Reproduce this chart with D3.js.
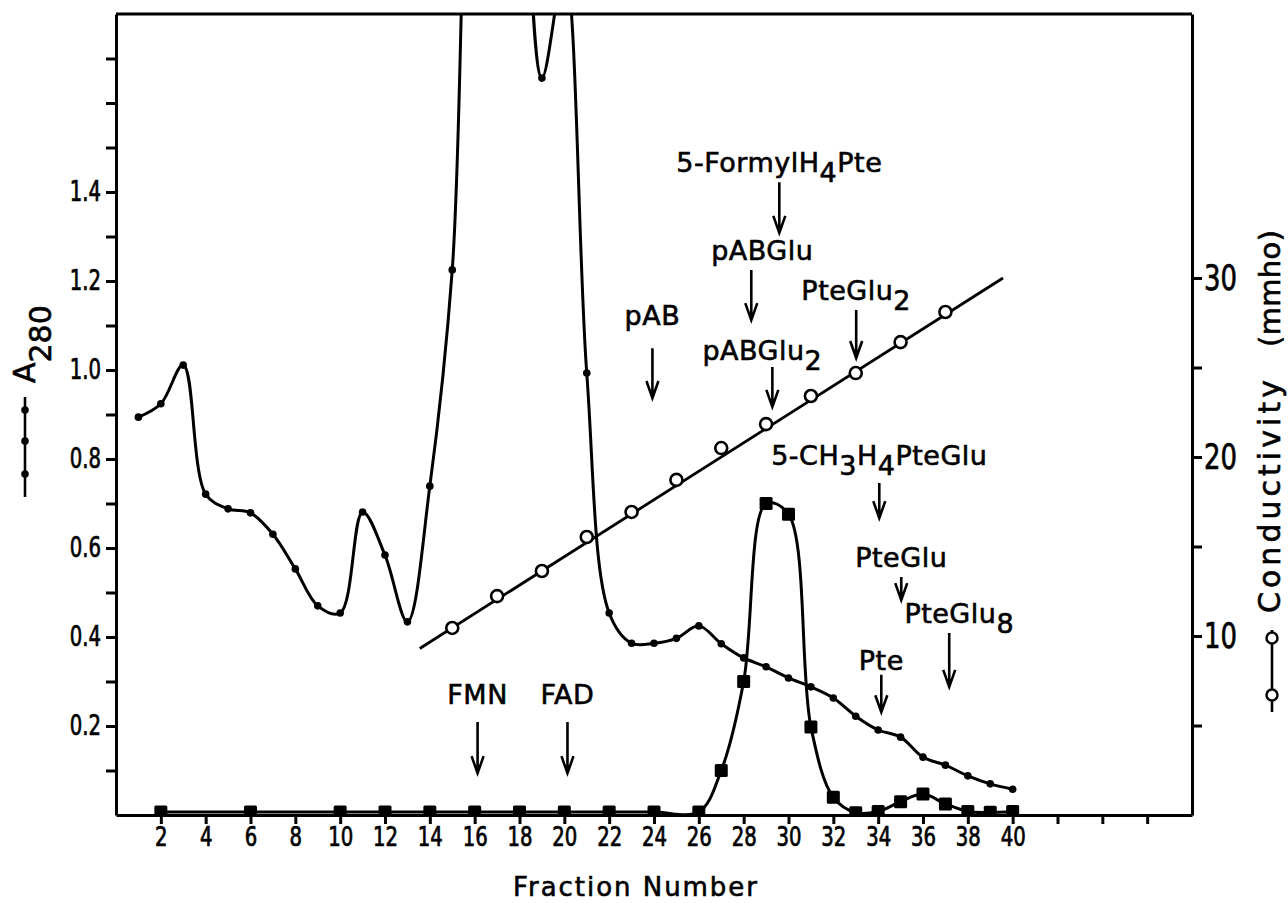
<!DOCTYPE html>
<html>
<head>
<meta charset="utf-8">
<script src="https://cdn.jsdelivr.net/npm/d3@7/dist/d3.min.js"></script>
<style>
  body { margin: 0; background: #fff; }
  svg { display: block; }
  .tick text { font-family: "Liberation Sans Narrow", "DejaVu Sans Condensed", sans-serif; fill: #000; stroke: #000; stroke-width: 0.7px; }
  .lbl { font-family: "DejaVu Sans", sans-serif; fill: #000; stroke: #000; stroke-width: 0.6px; }
</style>
</head>
<body>
<div id="chart"></div>
<script>
'use strict';

// A280 (left axis), one reading per fraction; values above 1.8 run off the top of the plot
var a280Fractions = [1, 2, 3, 4, 5, 6, 7, 8, 9, 10, 11, 12, 13, 14, 15, 16, 17, 18, 19, 20,
  21, 22, 23, 24, 25, 26, 27, 28, 29, 30, 31, 32, 33, 34, 35, 36, 37, 38, 39, 40];
var a280Values = [0.894, 0.924, 1.011, 0.721, 0.688, 0.679, 0.631, 0.553, 0.470, 0.454,
  0.681, 0.584, 0.434, 0.739, 1.225, 2.4, 2.6, 2.3, 1.656, 1.9,
  0.993, 0.454, 0.386, 0.386, 0.397, 0.425, 0.385, 0.353, 0.333, 0.308,
  0.288, 0.263, 0.222, 0.191, 0.175, 0.130, 0.112, 0.088, 0.070, 0.058];

// conductivity (mmho, right axis), open circles
var condFractions = [15, 17, 19, 21, 23, 25, 27, 29, 31, 33, 35, 37];
var condValues = [10.45, 12.23, 13.63, 15.53, 16.93, 18.72, 20.50, 21.84, 23.41, 24.69, 26.42, 28.10];
// ends of the ruled gradient line
var gradientFractions = [13.55, 39.57];
var gradientValues = [9.3, 30.0];

// filled squares (plotted against the left axis)
var squareFractions = [2, 6, 10, 12, 14, 16, 18, 20, 22, 24, 26, 27, 28, 29, 30,
  31, 32, 33, 34, 35, 36, 37, 38, 39, 40];
var squareValues = [0.007, 0.007, 0.007, 0.007, 0.007, 0.007, 0.007, 0.007, 0.007, 0.007, 0.007, 0.10, 0.30, 0.70, 0.676,
  0.198, 0.04, 0.005, 0.008, 0.03, 0.047, 0.025, 0.008, 0.006, 0.008];

// elution positions of standards: label pieces [text, subscript?]
var markerLabels = [
  [['5-FormylH', 0], ['4', 1], ['Pte', 0]],
  [['pABGlu', 0]],
  [['PteGlu', 0], ['2', 1]],
  [['pAB', 0]],
  [['pABGlu', 0], ['2', 1]],
  [['5-CH', 0], ['3', 1], ['H', 0], ['4', 1], ['PteGlu', 0]],
  [['PteGlu', 0]],
  [['PteGlu', 0], ['8', 1]],
  [['Pte', 0]],
  [['FMN', 0]],
  [['FAD', 0]]
];
var markerFractions = [29.59, 28.34, 33.02, 23.93, 29.28, 34.05, 35.03, 37.17, 34.14, 16.13, 20.14];
// levels in A280 units: label baseline, arrow tail, arrow head
var markerLabelLevels = [1.445, 1.247, 1.157, 1.101, 1.022, 0.787, 0.557, 0.431, 0.326, 0.249, 0.249];
var markerFromLevels = [1.422, 1.225, 1.135, 1.049, 1.007, 0.746, 0.535, 0.409, 0.315, 0.209, 0.209];
var markerToLevels = [1.308, 1.112, 1.027, 0.937, 0.917, 0.667, 0.483, 0.288, 0.231, 0.094, 0.094];

var leftTicks = [0.1, 0.2, 0.3, 0.4, 0.5, 0.6, 0.7, 0.8, 0.9, 1.0, 1.1, 1.2, 1.3, 1.4, 1.5, 1.6, 1.7];
var leftLabels = [0.2, 0.4, 0.6, 0.8, 1.0, 1.2, 1.4];
var bottomTicks = [2, 4, 6, 8, 10, 12, 14, 16, 18, 20, 22, 24, 26, 28, 30, 32, 34, 36, 38, 40, 42, 44, 46];
var rightTicks = [5, 10, 15, 20, 25, 30];
var rightLabels = [10, 20, 30];

var width = 1288, height = 903;
var plot = {left: 116, right: 1192, top: 14, bottom: 815};

var svg = d3.select('#chart')
  .append('svg')
    .attr('width', width)
    .attr('height', height);

var x = d3.scaleLinear().domain([0, 48]).range([plot.left, plot.right]);
var yA = d3.scaleLinear().domain([0, 1.8]).range([plot.bottom, plot.top]);
var yC = d3.scaleLinear().domain([0, 44.75]).range([plot.bottom, plot.top]);

svg.append('clipPath').attr('id', 'plotclip')
  .append('rect')
    .attr('x', plot.left).attr('y', plot.top)
    .attr('width', plot.right - plot.left).attr('height', plot.bottom - plot.top);

var zip = function(xs, ys){
  return xs.map(function(f, i){ return {f: f, v: ys[i]}; });
};

var a280 = zip(a280Fractions, a280Values);
var cond = zip(condFractions, condValues);
var grad = zip(gradientFractions, gradientValues);
var squares = zip(squareFractions, squareValues);

// ---- axes
var fmtLeft = function(d){
  var hit = leftLabels.some(function(l){ return Math.abs(l - d) < 1e-6; });
  return hit ? d3.format('.1f')(d) : '';
};

// squeeze tick labels to the narrow lettering of the original
var narrow = function(sel, perChar){
  sel.selectAll('.tick text').each(function(){
    var s = this.textContent;
    if (!s) return;
    var w = 0;
    for (var k = 0; k < s.length; k++){ w += s[k] === '.' ? perChar * 0.5 : perChar; }
    d3.select(this).attr('textLength', w).attr('lengthAdjust', 'spacingAndGlyphs');
  });
};

var gLeft = svg.append('g').attr('class', 'axis')
  .attr('transform', 'translate(' + plot.left + ',0)')
  .call(d3.axisLeft(yA).tickValues(leftTicks).tickFormat(fmtLeft)
    .tickSize(10).tickPadding(5).tickSizeOuter(0));

var gBottom = svg.append('g').attr('class', 'axis')
  .attr('transform', 'translate(0,' + plot.bottom + ')')
  .call(d3.axisBottom(x).tickValues(bottomTicks)
    .tickFormat(function(d){ return d <= 40 ? d : ''; })
    .tickSize(9).tickPadding(4).tickSizeOuter(0));

var gRight = svg.append('g').attr('class', 'axis')
  .attr('transform', 'translate(' + plot.right + ',0)')
  .call(d3.axisRight(yC).tickValues(rightTicks)
    .tickFormat(function(d){ return rightLabels.indexOf(d) >= 0 ? d : ''; })
    .tickSize(10).tickPadding(2).tickSizeOuter(0));

svg.append('line')
  .attr('x1', plot.left).attr('x2', plot.right)
  .attr('y1', plot.top).attr('y2', plot.top)
  .attr('stroke', '#000').attr('stroke-width', 3);

svg.selectAll('.axis path, .axis line')
  .attr('stroke', '#000').attr('stroke-width', 3);
gLeft.selectAll('text').style('font-size', '28px');
gBottom.selectAll('text').style('font-size', '26px');
gRight.selectAll('text').style('font-size', '36px');
narrow(gLeft, 12.5);
narrow(gBottom, 12.5);
narrow(gRight, 16.5);

// ---- series
var lineA = d3.line()
  .x(function(d){ return x(d.f); })
  .y(function(d){ return yA(d.v); })
  .curve(d3.curveCatmullRom.alpha(0.5));

var plotArea = svg.append('g').attr('clip-path', 'url(#plotclip)');

plotArea.append('path')
  .datum(a280)
  .attr('d', lineA)
  .attr('fill', 'none').attr('stroke', '#000').attr('stroke-width', 3);

plotArea.selectAll('.dotA')
  .data(a280.filter(function(d){ return d.v <= 1.8; }))
  .enter().append('circle')
    .attr('class', 'dotA')
    .attr('cx', function(d){ return x(d.f); })
    .attr('cy', function(d){ return yA(d.v); })
    .attr('r', 3.8)
    .attr('fill', '#000');

plotArea.append('path')
  .datum(squares)
  .attr('d', lineA)
  .attr('fill', 'none').attr('stroke', '#000').attr('stroke-width', 3);

plotArea.selectAll('.sq')
  .data(squares)
  .enter().append('rect')
    .attr('class', 'sq')
    .attr('x', function(d){ return x(d.f) - 6.5; })
    .attr('y', function(d){ return yA(d.v) - 6.5; })
    .attr('width', 13).attr('height', 13).attr('rx', 1.5)
    .attr('fill', '#000');

var lineC = d3.line()
  .x(function(d){ return x(d.f); })
  .y(function(d){ return yC(d.v); });

svg.append('path')
  .datum(grad)
  .attr('d', lineC)
  .attr('fill', 'none').attr('stroke', '#000').attr('stroke-width', 2.8);

svg.selectAll('.dotC')
  .data(cond)
  .enter().append('circle')
    .attr('class', 'dotC')
    .attr('cx', function(d){ return x(d.f); })
    .attr('cy', function(d){ return yC(d.v); })
    .attr('r', 6)
    .attr('fill', '#fff').attr('stroke', '#000').attr('stroke-width', 2.6);

// ---- standards: labels with arrows
var labelNudge = {1: 11, 4: -10, 7: 10};

markerLabels.forEach(function(parts, i){
  var cx = x(markerFractions[i]);
  var t = svg.append('text')
    .attr('class', 'lbl')
    .attr('x', cx + (labelNudge[i] || 0))
    .attr('y', yA(markerLabelLevels[i]))
    .attr('text-anchor', 'middle')
    .style('font-size', '27px')
    .style('letter-spacing', '0.5px');
  var shifted = 0;
  parts.forEach(function(p){
    var dy = 0;
    if (p[1] && !shifted){ dy = 10; shifted = 1; }
    else if (!p[1] && shifted){ dy = -10; shifted = 0; }
    t.append('tspan').attr('dy', dy).text(p[0]);
  });

  var y1 = yA(markerFromLevels[i]), y2 = yA(markerToLevels[i]);
  svg.append('path')
    .attr('d', 'M' + cx + ',' + y1 + 'L' + cx + ',' + y2 +
      'M' + (cx - 6) + ',' + (y2 - 17) + 'L' + cx + ',' + y2 + 'L' + (cx + 6) + ',' + (y2 - 17))
    .attr('fill', 'none').attr('stroke', '#000').attr('stroke-width', 2.6);
});

// ---- axis titles
svg.append('text')
  .attr('class', 'lbl')
  .attr('x', 513).attr('y', 896)
  .attr('textLength', 244).attr('lengthAdjust', 'spacing')
  .style('font-size', '26px')
  .text('Fraction Number');

var titleA = svg.append('text')
  .attr('class', 'lbl')
  .attr('transform', 'translate(35,383) rotate(-90)')
  .style('font-size', '30px');
titleA.append('tspan').text('A');
titleA.append('tspan').attr('dy', 16).text('280');

// legend glyph for A280
svg.append('line')
  .attr('x1', 25).attr('x2', 25).attr('y1', 397).attr('y2', 497)
  .attr('stroke', '#000').attr('stroke-width', 2.6);
svg.selectAll('.legA')
  .data([410, 441, 474])
  .enter().append('circle')
    .attr('cx', 25).attr('cy', function(d){ return d; })
    .attr('r', 3.8).attr('fill', '#000');

svg.append('text')
  .attr('class', 'lbl')
  .attr('transform', 'translate(1280,613) rotate(-90)')
  .attr('textLength', 233).attr('lengthAdjust', 'spacing')
  .style('font-size', '30px')
  .text('Conductivity');
svg.append('text')
  .attr('class', 'lbl')
  .attr('transform', 'translate(1280,347) rotate(-90)')
  .attr('textLength', 117).attr('lengthAdjust', 'spacing')
  .style('font-size', '29px')
  .text('(mmho)');

// legend glyph for conductivity
svg.append('line')
  .attr('x1', 1272).attr('x2', 1272).attr('y1', 630).attr('y2', 712)
  .attr('stroke', '#000').attr('stroke-width', 2.6);
svg.selectAll('.legC')
  .data([638, 695])
  .enter().append('circle')
    .attr('cx', 1272).attr('cy', function(d){ return d; })
    .attr('r', 5.5).attr('fill', '#fff').attr('stroke', '#000').attr('stroke-width', 2.4);
</script>
</body>
</html>
